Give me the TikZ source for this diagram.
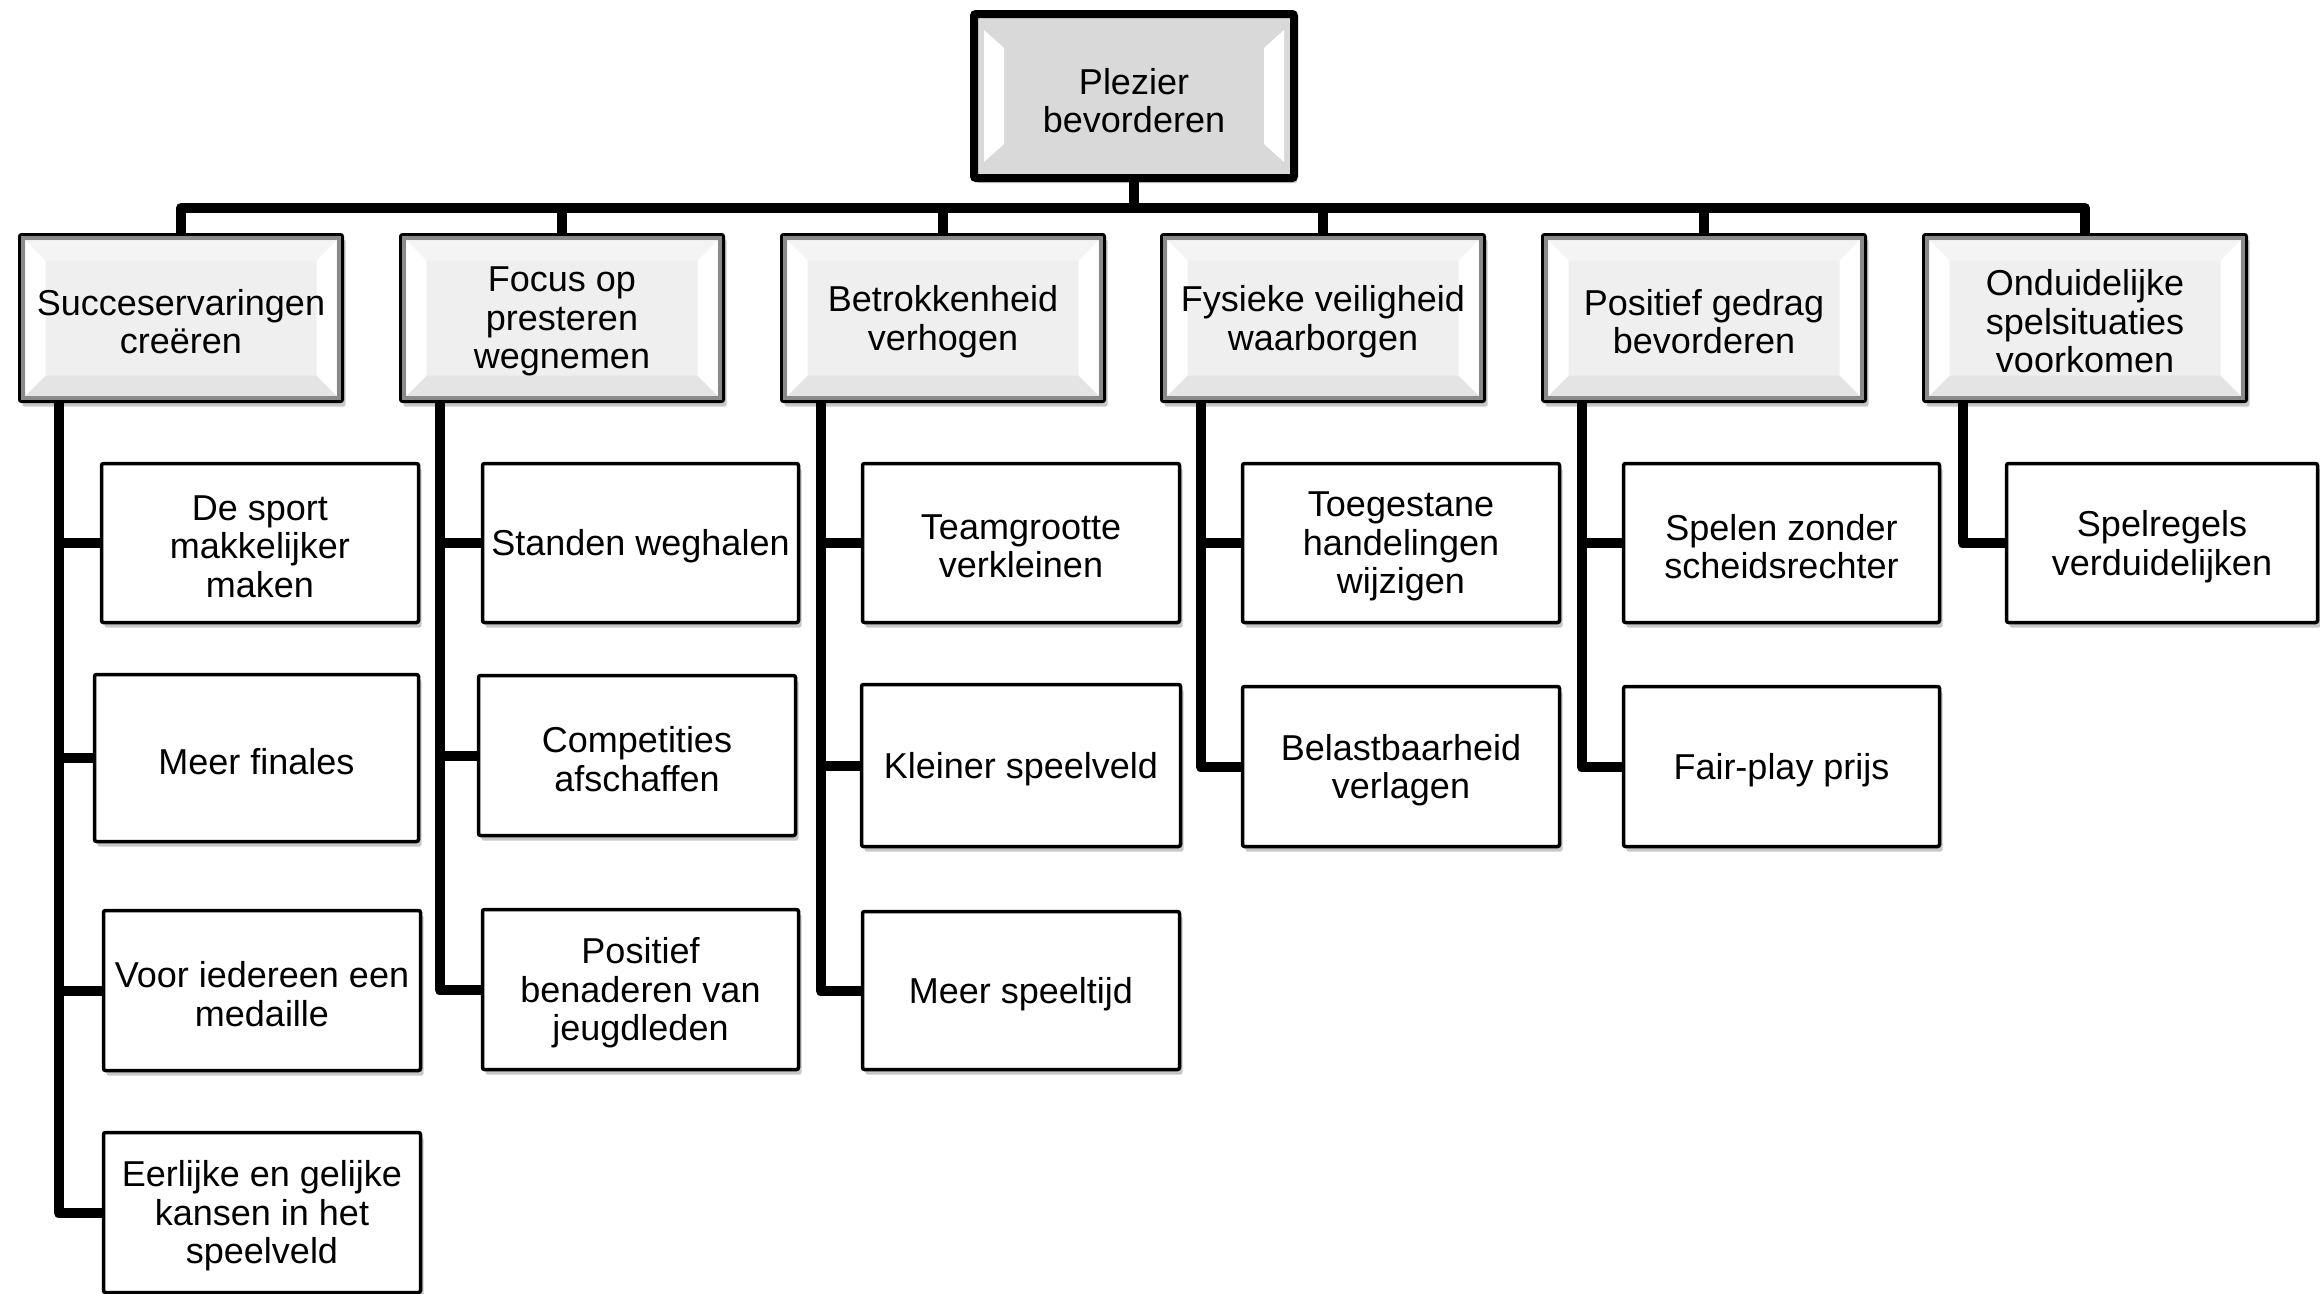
\documentclass[tikz,border=0pt]{standalone}
\usepackage{fontspec}
\setmainfont{Liberation Sans}
\usetikzlibrary{calc,shadows,backgrounds}
\definecolor{catfill}{HTML}{EFEFEF}
\definecolor{catbot}{HTML}{E4E4E4}
\definecolor{cattop}{HTML}{F4F4F4}
\definecolor{rootfill}{HTML}{D9D9D9}
\definecolor{bevgray}{HTML}{8A8A8A}
\newcommand\labelfont{\fontsize{36}{38.5}\selectfont}
\tikzset{
  conn/.style={line width=10pt, line join=round, black},
  softshadow/.style={drop shadow={shadow xshift=3pt, shadow yshift=-5pt, opacity=0.22, fill=black}},
  childbox/.style={draw=black, line width=3.5pt, fill=white, rounded corners=2pt,
    inner sep=0pt, outer sep=0pt, softshadow},
  catshape/.style={draw=black, line width=3pt, fill=catfill, rounded corners=2pt,
    minimum width=323pt, minimum height=167pt, inner sep=0pt, outer sep=0pt, softshadow},
  rootshape/.style={draw=black, line width=8pt, fill=rootfill, rounded corners=2pt,
    minimum width=320pt, minimum height=164pt, inner sep=0pt, outer sep=0pt, softshadow},
  lbl/.style={align=center, font=\labelfont, inner sep=0pt, text=black, yshift=-3.5pt},
}
\newcommand\CatBox[3]{%
  \node[catshape] (#1) at ({#2+163},318) {};
  \fill[cattop] ($(#1.north west)+(6,6)$) -- ++(20,20) -- ($(#1.north east)+(-26,26)$) -- ($(#1.north east)+(-6,6)$) -- cycle;
  \fill[catbot] ($(#1.south west)+(6,-6)$) -- ++(20,-20) -- ($(#1.south east)+(-26,-26)$) -- ($(#1.south east)+(-6,-6)$) -- cycle;
  \fill[white] ($(#1.north west)+(6,6)$) -- ++(20,20) -- ($(#1.south west)+(26,-26)$) -- ($(#1.south west)+(6,-6)$) -- cycle;
  \fill[white] ($(#1.north east)+(-6,6)$) -- ++(-20,20) -- ($(#1.south east)+(-26,-26)$) -- ($(#1.south east)+(-6,-6)$) -- cycle;
  \draw[bevgray, line width=3.5pt] ($(#1.north west)+(3.5,3.5)$) rectangle ($(#1.south east)+(-3.5,-3.5)$);
  \node[lbl] (#1t) at (#1) {#3};
}
\newcommand\Child[6]{%
  \node[childbox, minimum width={#4-#2-3}, minimum height={#5-#3-3}] (#1) at ({(#2+#4)/2},{(#3+#5)/2}) {};
  \node[lbl] (#1t) at (#1) {#6};
}
\begin{document}
\begin{tikzpicture}[x=1pt, y=-1pt]
\useasboundingbox (0,0) rectangle (2320,1293);
% root
\node[rootshape] (root) at (1134,96) {};
\fill[white] ($(root.north west)+(10,16)$) -- ++(20,18) -- ($(root.south west)+(30,-34)$) -- ($(root.south west)+(10,-16)$) -- cycle;
\fill[white] ($(root.north east)+(-10,16)$) -- ++(-20,18) -- ($(root.south east)+(-30,-34)$) -- ($(root.south east)+(-10,-16)$) -- cycle;
\node[lbl] (roottext) at (1134,97) {Plezier\\bevorderen};
% categories
\CatBox{c1}{18}{Succeservaringen\\creëren}
\CatBox{c2}{399}{Focus op\\presteren\\wegnemen}
\CatBox{c3}{780}{Betrokkenheid\\verhogen}
\CatBox{c4}{1160}{Fysieke veiligheid\\waarborgen}
\CatBox{c5}{1541}{Positief gedrag\\bevorderen}
\CatBox{c6}{1922}{Onduidelijke\\spelsituaties\\voorkomen}
% children
\Child{k11}{100}{462}{420}{624}{De sport\\makkelijker\\maken}
\Child{k12}{93}{673}{420}{843}{Meer finales}
\Child{k13}{102}{909}{422}{1072}{Voor iedereen een\\medaille}
\Child{k14}{102}{1131}{422}{1294}{Eerlijke en gelijke\\kansen in het\\speelveld}
\Child{k21}{481}{462}{800}{624}{Standen weghalen}
\Child{k22}{477}{674}{797}{837}{Competities\\afschaffen}
\Child{k23}{481}{908}{800}{1071}{Positief\\benaderen van\\jeugdleden}
\Child{k31}{861}{462}{1181}{624}{Teamgrootte\\verkleinen}
\Child{k32}{860}{683}{1182}{848}{Kleiner speelveld}
\Child{k33}{861}{910}{1181}{1071}{Meer speeltijd}
\Child{k41}{1241}{462}{1561}{624}{Toegestane\\handelingen\\wijzigen}
\Child{k42}{1241}{685}{1561}{848}{Belastbaarheid\\verlagen}
\Child{k51}{1622}{462}{1941}{624}{Spelen zonder\\scheidsrechter}
\Child{k52}{1622}{685}{1941}{848}{Fair-play prijs}
\Child{k61}{2005}{462}{2319}{624}{Spelregels\\verduidelijken}
% connectors
\begin{scope}[on background layer]
  \coordinate (bus) at (1134,208);
  \draw[conn] (root.south) -- (bus);
  \foreach \c in {c1,c2,c3,c4,c5,c6} \draw[conn] (bus) -| (\c.north);
  \foreach \c/\kids in {c1/{k11,k12,k13,k14}, c2/{k21,k22,k23}, c3/{k31,k32,k33}, c4/{k41,k42}, c5/{k51,k52}, c6/{k61}} {
    \foreach \k in \kids \draw[conn] ($(\c.south west)+(39,0)$) |- (\k.west);
  }
\end{scope}
\end{tikzpicture}
\end{document}
